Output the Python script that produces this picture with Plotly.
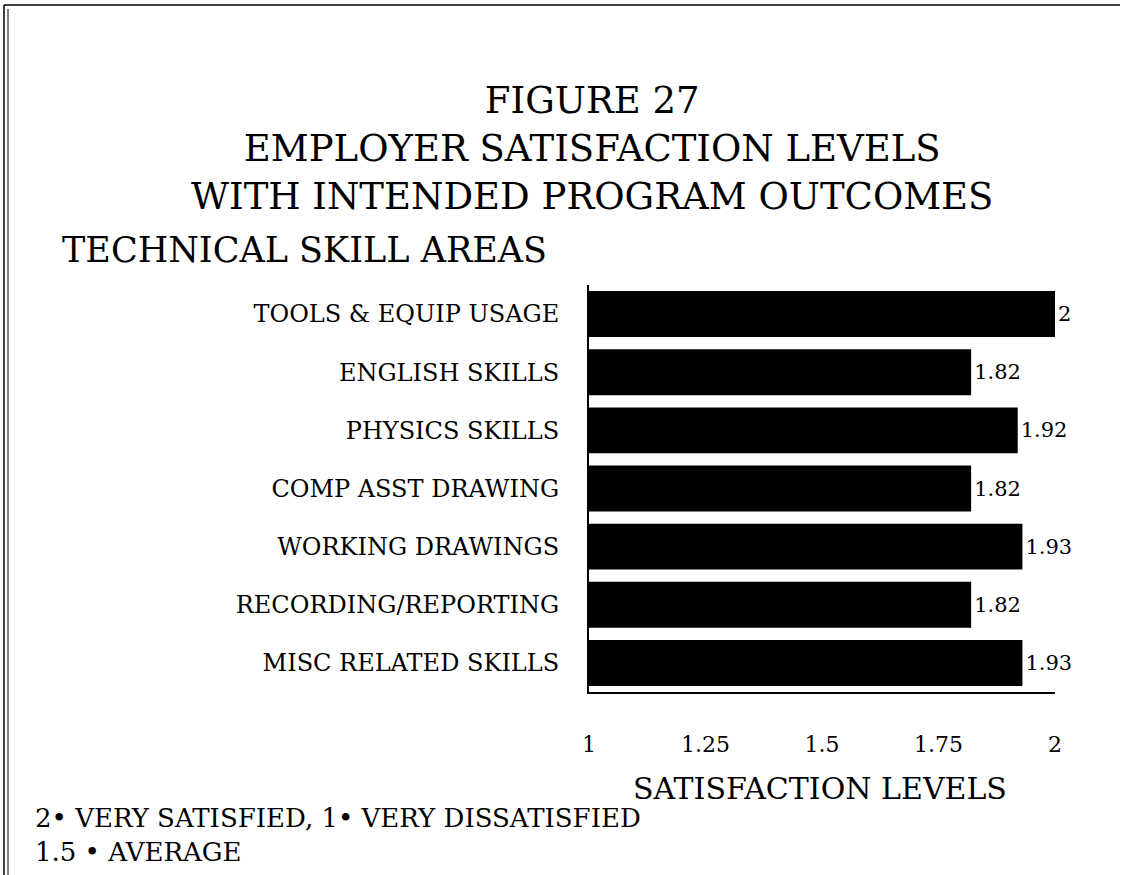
'''Employer satisfaction levels - horizontal bar chart'''

import plotly.graph_objects as go

# data
skills = [
    "TOOLS & EQUIP USAGE",
    "ENGLISH SKILLS",
    "PHYSICS SKILLS",
    "COMP ASST DRAWING",
    "WORKING DRAWINGS",
    "RECORDING/REPORTING",
    "MISC RELATED SKILLS",
]
satisfaction = [2, 1.82, 1.92, 1.82, 1.93, 1.82, 1.93]
value_labels = ["2", "1.82", "1.92", "1.82", "1.93", "1.82", "1.93"]
tick_vals = [1, 1.25, 1.5, 1.75, 2]
tick_text = ["1", "1.25", "1.5", "1.75", "2"]

W, H = 1131, 875
serif = "DejaVu Serif"


def px(x):
    return x / W


def py(y):
    return 1 - y / H


# bars start at 1 (bottom of the scale)
start = 1
fig = go.Figure(
    go.Bar(
        x=[v - start for v in satisfaction],
        y=skills,
        base=start,
        orientation="h",
        marker=dict(color="black", line=dict(width=0)),
        text=value_labels,
        textposition="outside",
        textfont=dict(family=serif, size=21, color="black"),
        cliponaxis=False,
    )
)

fig.update_layout(
    width=W,
    height=H,
    margin=dict(l=0, r=0, t=0, b=0),
    paper_bgcolor="white",
    plot_bgcolor="white",
    showlegend=False,
    bargap=0.21,
    xaxis=dict(
        domain=[px(589), px(1055)],
        range=[1, 2],
        tickvals=tick_vals,
        ticktext=tick_text,
        showgrid=False,
        zeroline=False,
        showline=True,
        linecolor="black",
        linewidth=2,
        ticks="",
        automargin=False,
        ticklabelstandoff=32,
        tickfont=dict(family=serif, size=22, color="black"),
    ),
    yaxis=dict(
        domain=[py(692), py(285)],
        categoryorder="array",
        categoryarray=skills,
        autorange="reversed",
        showgrid=False,
        zeroline=False,
        showline=True,
        linecolor="black",
        linewidth=2,
        ticks="",
        automargin=False,
        ticklabelstandoff=23,
        tickfont=dict(family=serif, size=24, color="black"),
    ),
)

annotations = [
    dict(text="FIGURE 27<br>EMPLOYER SATISFACTION LEVELS<br>WITH INTENDED PROGRAM OUTCOMES",
         x=px(592), y=py(77), xanchor="center", yanchor="top",
         font=dict(family=serif, size=37, color="black"), align="center"),
    dict(text="TECHNICAL SKILL AREAS", x=px(60), y=py(250),
         xanchor="left", yanchor="middle",
         font=dict(family=serif, size=35, color="black")),
    dict(text="SATISFACTION LEVELS", x=px(820), y=py(788),
         xanchor="center", yanchor="middle",
         font=dict(family=serif, size=30, color="black")),
    dict(text="2• VERY SATISFIED, 1• VERY DISSATISFIED<br>1.5 • AVERAGE",
         x=px(33), y=py(801), xanchor="left", yanchor="top",
         align="left", font=dict(family=serif, size=26, color="black")),
]
for a in annotations:
    a.update(xref="paper", yref="paper", showarrow=False)
fig.update_layout(annotations=annotations)

# scanned page frame
fig.update_layout(shapes=[
    dict(type="line", xref="paper", yref="paper", x0=px(4), x1=px(1120),
         y0=py(5), y1=py(5), line=dict(color="black", width=1.5)),
    dict(type="line", xref="paper", yref="paper", x0=px(4), x1=px(4),
         y0=0, y1=py(5), line=dict(color="black", width=1.5)),
    dict(type="line", xref="paper", yref="paper", x0=px(8), x1=px(8),
         y0=0, y1=py(9), line=dict(color="black", width=1)),
])

# page body has a default margin; drop it so the figure fills the window
fig.write_html("out.html", config={"displayModeBar": False},
               post_script="document.body.style.margin='0';")
